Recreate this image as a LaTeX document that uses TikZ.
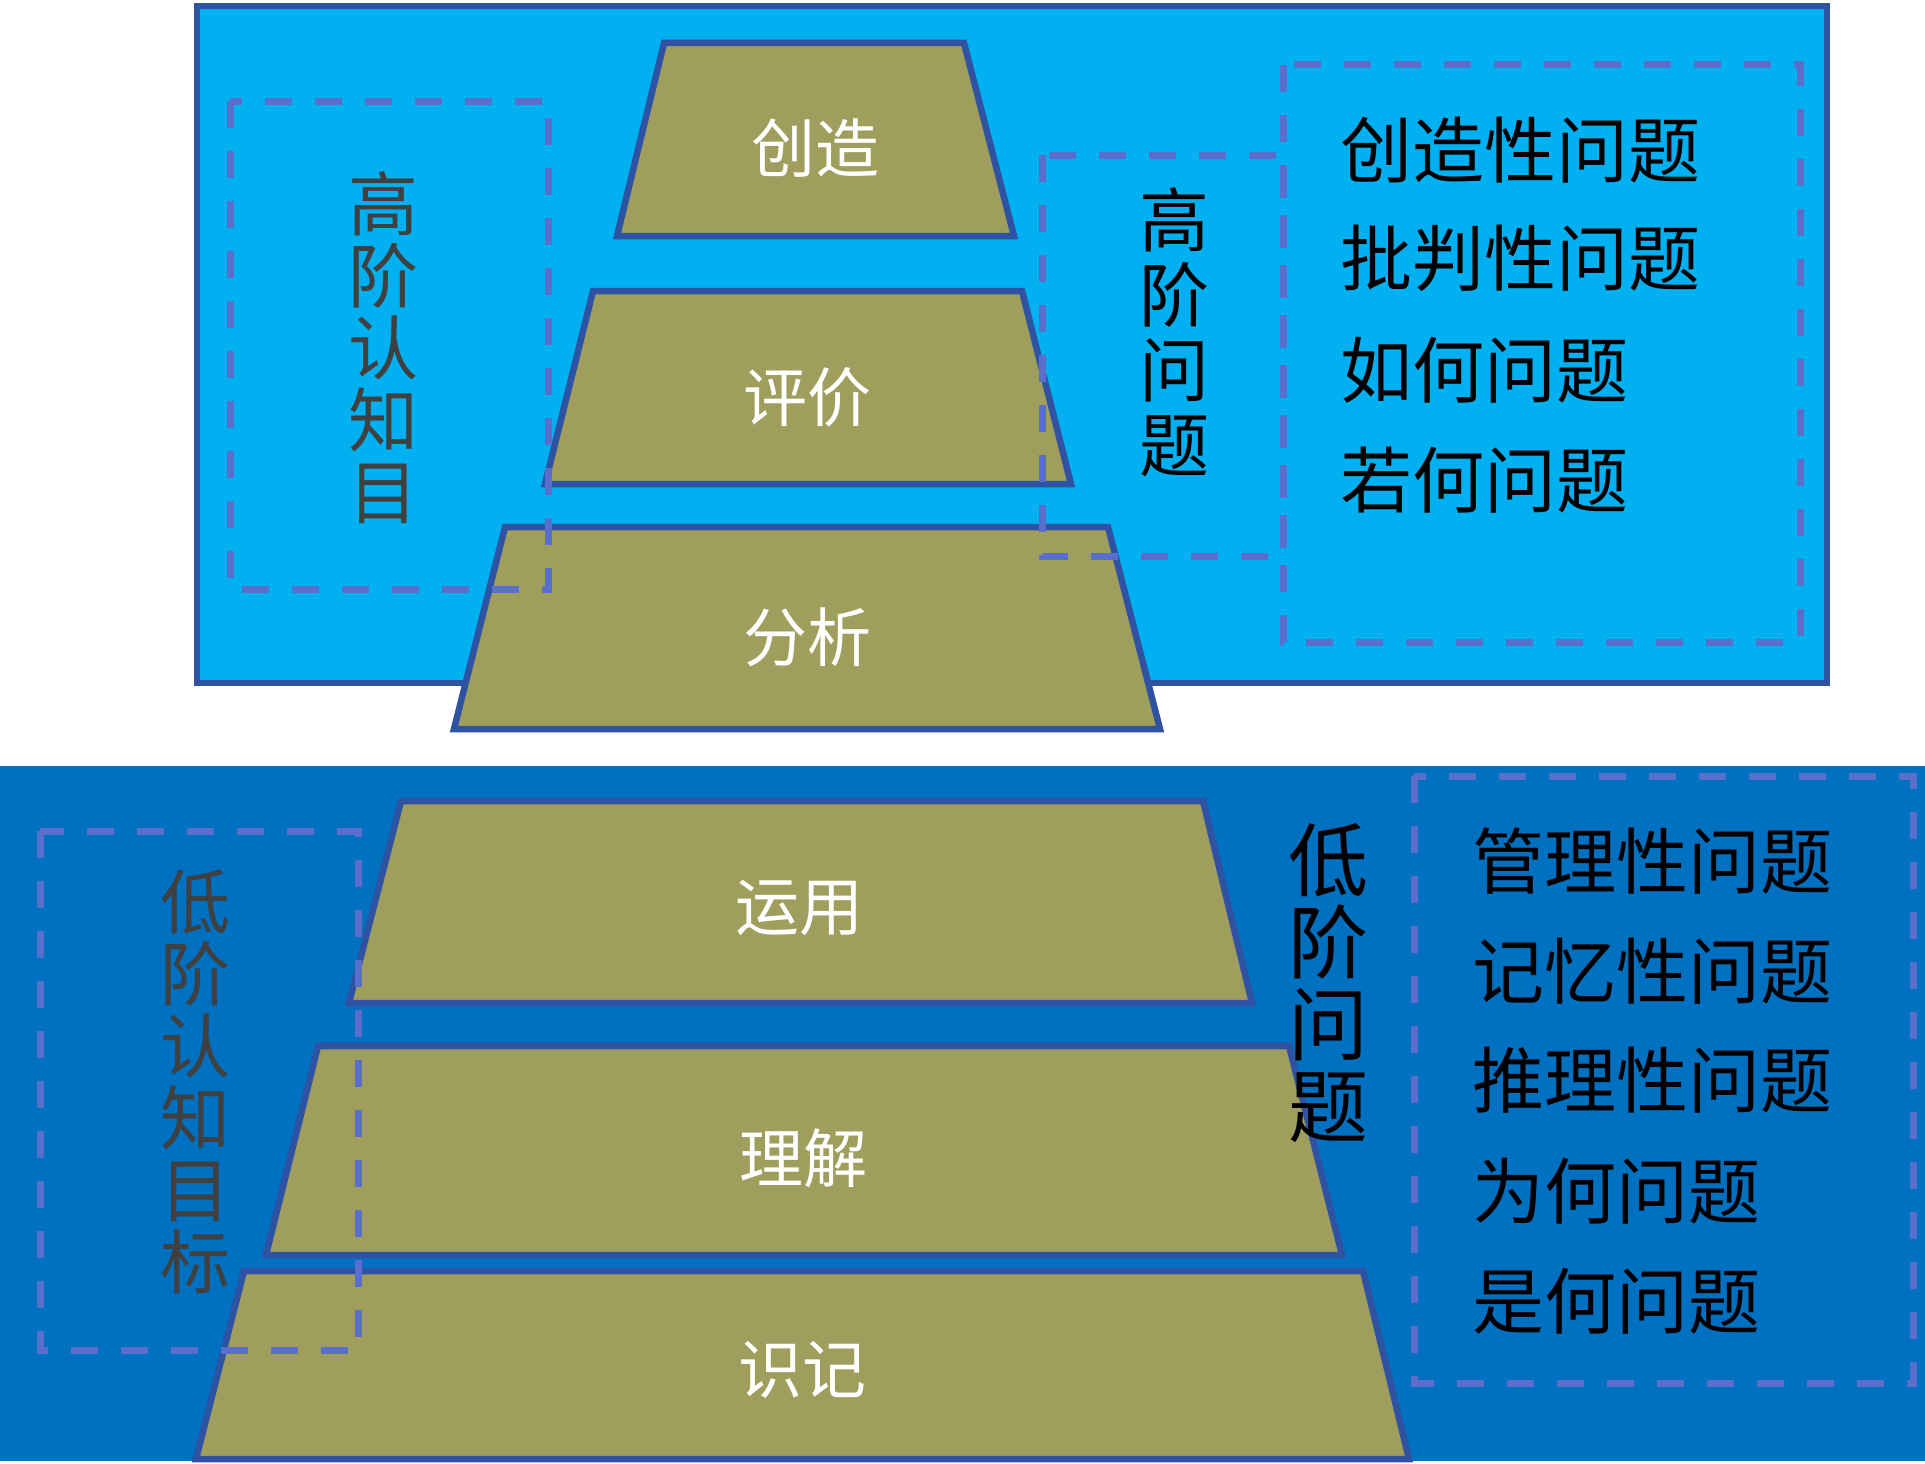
\documentclass[tikz,border=0pt]{standalone}
\usepackage{fontspec}
\newfontfamily\cjk{Noto Sans CJK SC}
\definecolor{skyfill}{HTML}{00B0F0}
\definecolor{deepfill}{HTML}{0070C0}
\definecolor{olivefill}{HTML}{A09E5C}
\definecolor{edgeblue}{HTML}{2F52A3}
\definecolor{dashblue}{HTML}{5A6ECB}
\definecolor{graytext}{HTML}{404040}
\tikzset{
  trapbox/.style={draw=edgeblue, line width=6.5pt, fill=olivefill, line join=miter},
  dbox/.style={draw=dashblue, line width=7pt, dash pattern=on 27pt off 23pt},
  levellab/.style={text=white, inner sep=0pt, font=\cjk\fontsize{64}{64}\selectfont},
  vgray/.style={text=graytext, align=center, inner sep=0pt, font=\cjk\fontsize{70}{72}\selectfont},
  vblack/.style={text=black, align=center, inner sep=0pt},
  listtxt/.style={text=black, anchor=west, inner sep=0pt, font=\cjk\fontsize{72}{72}\selectfont},
}
\begin{document}
\begin{tikzpicture}[x=1pt,y=-1pt]
\useasboundingbox (0,0) rectangle (1925,1464);
\fill[white] (0,0) rectangle (1925,1464);
% panels
\draw[fill=skyfill, draw=edgeblue, line width=6pt] (197,6) rectangle (1827,683);
\fill[deepfill] (0,766) rectangle (1925,1461);
% high-order trapezoids
\draw[trapbox] (664,43) -- (964,43) -- (1014,236) -- (617,236) -- cycle;
\draw[trapbox] (593,291) -- (1022,291) -- (1071,484) -- (545,484) -- cycle;
\draw[trapbox] (505,527) -- (1108,527) -- (1160,729) -- (454,729) -- cycle;
% low-order trapezoids
\draw[trapbox] (401,801) -- (1203,801) -- (1252,1003) -- (349,1003) -- cycle;
\draw[trapbox] (318,1046) -- (1289,1046) -- (1342,1255) -- (266,1255) -- cycle;
\draw[trapbox] (244,1271) -- (1363,1271) -- (1409,1459) -- (196,1459) -- cycle;
% dashed boxes
\draw[dbox] (230,101) rectangle (548,589);
\draw[dbox] (1042,155) rectangle (1283,556);
\draw[dbox] (1283,65) rectangle (1800,642);
\draw[dbox] (40,831) rectangle (358,1350);
\draw[dbox] (1414,776) rectangle (1913,1383);
% level labels
\node[levellab] (cz) at (815,148) {创造};
\node[levellab] (pj) at (807,397) {评价};
\node[levellab] (fx) at (807,637) {分析};
\node[levellab] (yy) at (799,908) {运用};
\node[levellab] (lj) at (803,1158) {理解};
\node[levellab] (sj) at (802,1370) {识记};
% vertical labels
\node[vgray] (gjrz) at (383,348) {高\\阶\\认\\知\\目};
\node[vgray] (djrz) at (195,1082) {低\\阶\\认\\知\\目\\标};
\node[vblack, font=\cjk\fontsize{70}{75}\selectfont] (gjwt) at (1174,332) {高\\阶\\问\\题};
\node[vblack, font=\cjk\fontsize{80}{82}\selectfont] (djwt) at (1328,983) {低\\阶\\问\\题};
% question lists
\node[listtxt] (q1) at (1340,150) {创造性问题};
\node[listtxt] (q2) at (1340,258) {批判性问题};
\node[listtxt] (q3) at (1340,370) {如何问题};
\node[listtxt] (q4) at (1340,480) {若何问题};
\node[listtxt] (r1) at (1472,861) {管理性问题};
\node[listtxt] (r2) at (1472,971) {记忆性问题};
\node[listtxt] (r3) at (1472,1080) {推理性问题};
\node[listtxt] (r4) at (1472,1191) {为何问题};
\node[listtxt] (r5) at (1472,1301) {是何问题};
\end{tikzpicture}
\end{document}
